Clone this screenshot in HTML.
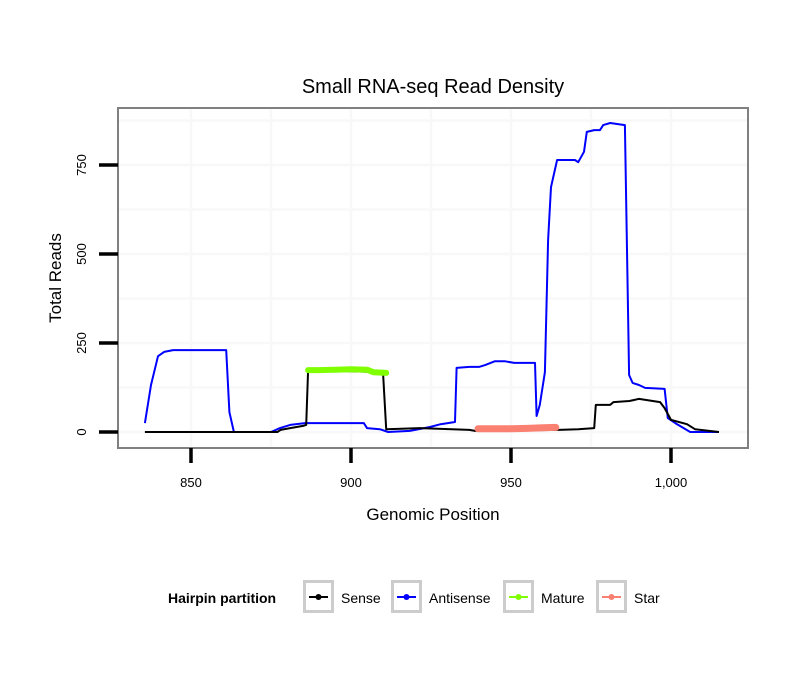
<!DOCTYPE html>
<html><head><meta charset="utf-8"><style>
body{margin:0;background:#fff;}
svg text{font-family:"Liberation Sans",sans-serif;}
</style></head><body>
<svg id="chart" width="810" height="690" xmlns="http://www.w3.org/2000/svg">
<rect width="810" height="690" fill="#fff"/>
<text x="433" y="93" font-size="20" text-anchor="middle">Small RNA-seq Read Density</text>
<g id="grid"></g>
<g id="series"></g>
<rect x="118" y="108" width="630" height="340" fill="none" stroke="#808080" stroke-width="2"/>
<g id="axes"></g>
<text x="433" y="520" font-size="17" text-anchor="middle">Genomic Position</text>
<text transform="translate(61,278) rotate(-90)" font-size="17" text-anchor="middle">Total Reads</text>
<g>
<text x="168" y="603" font-size="14" font-weight="bold">Hairpin partition</text>
<g id="legend-entries"></g>
</g>
</svg>
<script>
const xTicks=[850,900,950,1000];
const xTickLabels=["850","900","950","1,000"];
const yTicks=[0,250,500,750];
const yTickLabels=["0","250","500","750"];
const senseX=[835.6,877,878,881,885,886,886.6,910,911,921.6,937,938.75,965,971,976,976.5,981,982,987,990,996.6,998,1000,1005,1007.5,1015];
const senseY=[0,0,6,11,17,20,174,168,8,11,6,3,6,8,11,76,76,84,87,93,84,67,34,22,8,0];
const antiX=[835.6,837.5,839.7,841.6,844.4,861,862,863.4,875,877.8,881,885.6,898,904,905,909,911.6,918.4,924.7,928,932.5,933,937,940,941.9,945,948,951,957.5,958,959,960.6,961.6,962.5,964.4,970,971,972.8,973.7,976,977.8,978.8,981,985.6,986.9,988,990,991.9,998,999,1001.3,1006,1015];
const antiY=[25,132,213,225,230,230,56,0,0,11,20,25,25,25,11,8,0,3,14,22,28,180,183,183,188,199,199,194,194,45,76,168,539,688,764,764,758,787,843,848,848,862,868,862,160,138,132,124,121,39,25,0,0];
const matureX=[886.6,890,895,900,905,907,911];
const matureY=[174,174,175,176,175,168,166];
const starX=[939.7,945,950,955,960,964];
const starY=[9,9,9,10,12,13];
const categories=["Sense","Antisense","Mature","Star"];
const colors=["#000000","#0000ff","#7fff00","#fa8072"];
const NS="http://www.w3.org/2000/svg";
const xs=v=>191+(v-850)*3.2;
const ys=v=>432-v*0.356;
function mk(tag,attrs,parent){const e=document.createElementNS(NS,tag);for(const k in attrs)e.setAttribute(k,attrs[k]);parent.appendChild(e);return e;}
const grid=document.getElementById('grid'),series=document.getElementById('series'),axes=document.getElementById('axes');
for(let v=825;v<=1025;v+=25){if(xs(v)<119||xs(v)>747)continue;const l=mk('line',{x1:xs(v),x2:xs(v),y1:109,y2:447,stroke:'#f8f8f8','stroke-width':2.5},grid);

}
for(let v=0;v<=875;v+=125){const l=mk('line',{x1:119,x2:747,y1:ys(v),y2:ys(v),stroke:'#f8f8f8','stroke-width':2.5},grid);

}
xTicks.forEach((v,i)=>{const t=mk('line',{x1:xs(v),x2:xs(v),y1:448,y2:463,stroke:'#000','stroke-width':3.5},axes);


const tx=mk('text',{x:xs(v),y:487,'font-size':13,'text-anchor':'middle'},axes);tx.textContent=xTickLabels[i];

});
yTicks.forEach((v,i)=>{const t=mk('line',{x1:99,x2:118,y1:ys(v),y2:ys(v),stroke:'#000','stroke-width':3.5},axes);


const tx=mk('text',{transform:`translate(86,${ys(v)}) rotate(-90)`,'font-size':13,'text-anchor':'middle'},axes);tx.textContent=yTickLabels[i];

});
function path(X,Y){return X.map((x,i)=>(i?'L':'M')+xs(x).toFixed(1)+','+ys(Y[i]).toFixed(1)).join('');}
const pa=mk('path',{d:path(antiX,antiY),fill:'none',stroke:colors[1],'stroke-width':2,'stroke-linejoin':'round'},series);


const ps=mk('path',{d:path(senseX,senseY),fill:'none',stroke:colors[0],'stroke-width':2,'stroke-linejoin':'round'},series);


const pm=mk('path',{d:path(matureX,matureY),fill:'none',stroke:colors[2],'stroke-width':6,'stroke-linecap':'round','stroke-linejoin':'round'},series);


const pst=mk('path',{d:path(starX,starY),fill:'none',stroke:colors[3],'stroke-width':7,'stroke-linecap':'round','stroke-linejoin':'round'},series);


const le=document.getElementById('legend-entries');
const boxX=[303,391,503,596];
categories.forEach((c,i)=>{const g=mk('g',{},le);


mk('rect',{x:boxX[i]+1.5,y:581.5,width:28,height:30,fill:'#fff',stroke:'#cccccc','stroke-width':3},g);
mk('line',{x1:boxX[i]+6,x2:boxX[i]+25,y1:597,y2:597,stroke:colors[i],'stroke-width':2},g);
mk('circle',{cx:boxX[i]+15.5,cy:597,r:3,fill:colors[i]},g);
const t=mk('text',{x:boxX[i]+38,y:603,'font-size':14},g);t.textContent=c;});
</script>
</body></html>
